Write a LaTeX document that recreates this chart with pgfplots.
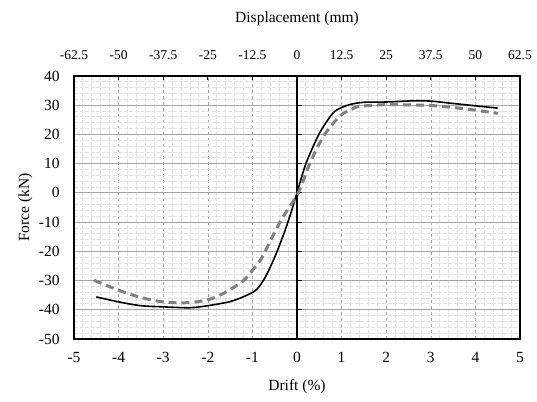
\documentclass[border=0pt]{standalone}
\usepackage{pgfplots}
\pgfplotsset{compat=1.18}
\usepackage{fontspec}
\setmainfont{Liberation Serif}

\definecolor{majgrid}{RGB}{165,165,165}
\definecolor{mingrid}{RGB}{225,225,225}
\definecolor{dashgray}{RGB}{128,128,128}

\begin{document}
\fontsize{15.5}{18}\selectfont
\begin{tikzpicture}
\begin{axis}[
  name=main,
  scale only axis,
  width=446pt, height=263pt,
  xmin=-5, xmax=5, ymin=-50, ymax=40,
  xtick={-5,-4,...,5},
  ytick={-50,-40,...,40},
  minor x tick num=4,
  minor y tick num=4,
  major tick length=0pt,
  minor tick length=0pt,
  grid=both,
  major x grid style={majgrid, dashed, line width=0.6pt},
  major y grid style={majgrid, line width=0.8pt},
  minor grid style={mingrid, dash pattern=on 4pt off 1.5pt, line width=0.9pt},
  axis line style={black, line width=1.6pt},
  tick style={draw=none},
  /pgf/number format/assume math mode=true,
  tick label style={font=\fontsize{15.5}{18}\selectfont},
  label style={font=\fontsize{15.5}{18}\selectfont},
  xticklabel style={yshift=-8pt},
  yticklabel style={xshift=-9pt},
  xlabel={Drift (\%)},
  ylabel={Force (kN)},
  xlabel style={yshift=-6pt},
  ylabel style={yshift=-4pt},
  clip=false,
]
% vertical axis through zero with its ticks
\draw[black, line width=1.6pt] (axis cs:0,-50) -- (axis cs:0,40);
\pgfplotsinvokeforeach{-40,-30,-20,-10,0,10,20,30}{
  \draw[black, line width=1pt] (axis cs:0,#1) -- ([xshift=5pt]axis cs:0,#1);
}
\pgfplotsinvokeforeach{-4,-3,-2,-1,1,2,3,4}{
  \draw[black, line width=1.2pt] (axis cs:#1,40) -- ([yshift=-4pt]axis cs:#1,40);
}

\addplot[smooth, black, line width=1.6pt] coordinates {
  (-4.5,-35.6) (-4.0,-37.3) (-3.5,-38.6) (-3.0,-39.0) (-2.4,-39.3)
  (-2.0,-38.6) (-1.5,-37.2) (-1.15,-35.2) (-0.9,-33) (-0.7,-28.5)
  (-0.5,-22) (-0.3,-14.2) (-0.15,-7.5) (0,0) (0.2,10) (0.5,20.3)
  (0.8,27.2) (1.0,29.2) (1.2,30.3) (1.5,31) (2.0,31.1) (2.6,31.5)
  (3.0,31.4) (3.5,30.6) (4.0,29.8) (4.5,29.0)
};
\addplot[smooth, dashgray, line width=3pt, dash pattern=on 8pt off 5pt] coordinates {
  (-4.55,-29.9) (-4.0,-33.3) (-3.5,-35.8) (-3.0,-37.3) (-2.5,-37.6)
  (-2.0,-36.6) (-1.6,-34) (-1.2,-30) (-1.0,-26.5) (-0.8,-22.5)
  (-0.6,-16.5) (-0.4,-10.5) (-0.2,-5.5) (0.03,0) (0.3,10.5) (0.6,19.5)
  (0.96,26.3) (1.2,28.4) (1.4,29.6) (2.0,30.2) (2.5,30.1) (3.0,29.9)
  (3.5,29.2) (4.0,28.3) (4.5,27.2)
};
\end{axis}
\begin{axis}[
  scale only axis,
  width=446pt, height=263pt,
  at={(main.south west)}, anchor=south west,
  xmin=-62.5, xmax=62.5, ymin=0, ymax=1,
  axis x line*=top,
  hide y axis,
  axis line style={draw=none},
  xtick={-62.5,-50,-37.5,-25,-12.5,0,12.5,25,37.5,50,62.5},
  xticklabels={-62.5,-50,-37.5,-25,-12.5,0,12.5,25,37.5,50,62.5},
  tick style={draw=none},
  major tick length=0pt,
  xticklabel style={yshift=11pt, font=\fontsize{13.5}{16}\selectfont},
  xlabel={Displacement (mm)},
  xlabel style={font=\fontsize{15.5}{18}\selectfont, yshift=14pt},
]
\end{axis}
\pgfresetboundingbox
\path ([shift={(-74pt,-62pt)}]main.south west) rectangle ([shift={(17pt,76pt)}]main.north east);
\end{tikzpicture}
\end{document}
